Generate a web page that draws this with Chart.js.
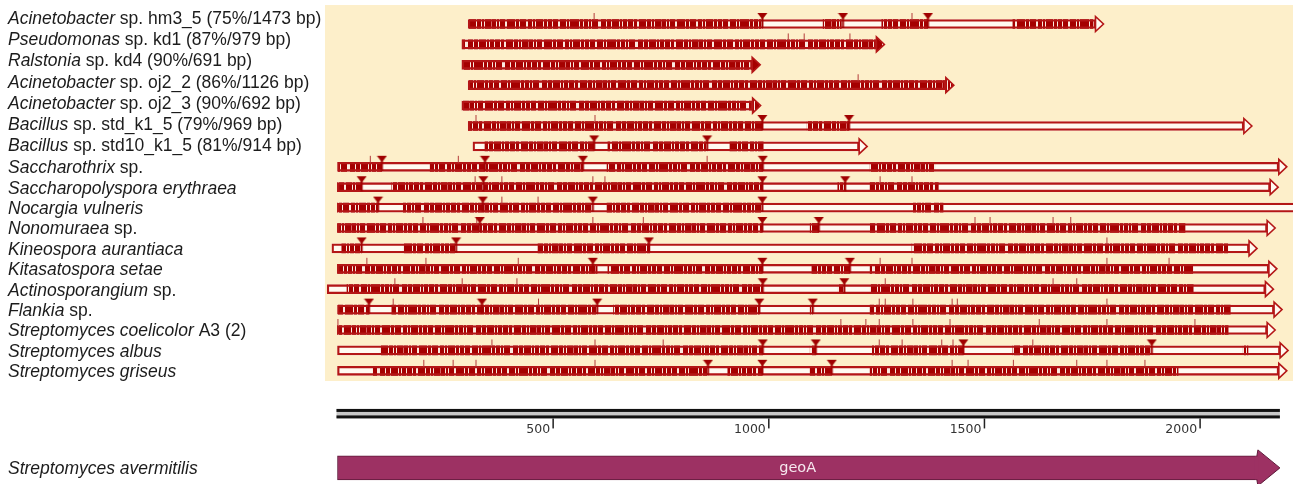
<!DOCTYPE html>
<html>
<head>
<meta charset="utf-8">
<script src="https://cdn.jsdelivr.net/npm/chart.js@4.4.1/dist/chart.umd.min.js"></script>
<style>
  html, body { margin: 0; padding: 0; background: #ffffff; }
  #wrap { width: 1293px; height: 484px; position: relative; }
</style>
</head>
<body>
<div id="wrap"><canvas id="map" width="1293" height="484"></canvas></div>
<script>
// ---- reads aligned against the geoA gene (positions in bp) ----
const genera = [
  'Acinetobacter', 'Pseudomonas', 'Ralstonia', 'Acinetobacter', 'Acinetobacter',
  'Bacillus', 'Bacillus', 'Saccharothrix', 'Saccharopolyspora erythraea',
  'Nocargia vulneris', 'Nonomuraea', 'Kineospora aurantiaca', 'Kitasatospora setae',
  'Actinosporangium', 'Flankia', 'Streptomyces coelicolor', 'Streptomyces albus',
  'Streptomyces griseus'
];
const strains = [
  ' sp. hm3_5 (75%/1473 bp)', ' sp. kd1 (87%/979 bp)', ' sp. kd4 (90%/691 bp)',
  ' sp. oj2_2 (86%/1126 bp)', ' sp. oj2_3 (90%/692 bp)', ' sp. std_k1_5 (79%/969 bp)',
  ' sp. std10_k1_5 (81%/914 bp)', ' sp.', '', '', ' sp.', '', '', ' sp.', ' sp.',
  ' A3 (2)', '', ''
];
const readStart = [303, 289, 289, 303, 289, 303, 314, 0, 0, 0, 0, -13, 0, -24, 0, 0, 0, 0];
const readEnd   = [1776, 1268, 980, 1429, 981, 2120, 1228, 2201, 2181, 2260, 2174, 2132, 2178, 2170, 2190, 2174, 2204, 2201];

// aligned (matching) stretches of each read
const aligned = [
  [[303, 985], [1126, 1168], [1262, 1369], [1566, 1752]],
  [[289, 1268]],
  [[289, 980]],
  [[303, 1429]],
  [[289, 981]],
  [[303, 985], [1089, 1186]],
  [[342, 595], [627, 857], [910, 987]],
  [[0, 103], [215, 569], [625, 986], [1235, 1386]],
  [[0, 56], [126, 985], [1160, 1177], [1235, 1393]],
  [[0, 94], [152, 592], [625, 985], [1335, 1404]],
  [[0, 985], [1096, 1116], [1235, 1965]],
  [[10, 56], [152, 275], [465, 725], [1332, 2065]],
  [[0, 602], [627, 985], [1100, 1188], [1235, 1984]],
  [[22, 986], [1160, 1175], [1235, 1984]],
  [[0, 73], [126, 602], [640, 978], [1096, 1102], [1235, 2070]],
  [[0, 2065]],
  [[99, 986], [1096, 1109], [1240, 1451], [1566, 1888], [2100, 2111]],
  [[83, 859], [905, 985], [1096, 1146], [1235, 1949]]
];
// gap positions (triangles) and insertion positions (ticks)
const gaps = [
  [985, 1172, 1369], [], [], [], [], [985, 1186], [595, 857],
  [103, 342, 569, 986], [56, 338, 985, 1177], [94, 337, 592, 985],
  [330, 985, 1116], [56, 275, 722], [592, 985, 1188], [986, 1175],
  [73, 335, 602, 978, 1102], [], [986, 1109, 1451, 1888], [859, 985, 1146]
];
const inserts = [
  [595, 1332], [1045, 1082, 1188], [], [1207], [], [321, 597], [],
  [76, 280, 857], [319, 381, 592, 620, 1258, 1332], [381, 465],
  [198, 323, 592, 709, 1478, 1513, 1659, 1700], [1784],
  [68, 205, 419, 1258, 1332, 1784, 1928], [133, 289, 416, 1270, 1659, 1714],
  [129, 466, 1256, 1270, 1334, 1425, 1437, 1784],
  [1, 1167, 1225, 1256, 1334, 1420, 1627, 1784, 1988],
  [358, 597, 755, 1256, 1309, 1401, 1427, 1612],
  [200, 268, 321, 597, 1425, 1462, 1567, 1714, 1784, 1872]
];
// reference gene
const refOrganism = 'Streptomyces avermitilis';
const refGene = 'geoA';
const refStart = 0;
const refEnd = 2185;
const scaleTicks = [500, 1000, 1500, 2000];

// ---- layout ----
const X_MIN = -782.5, X_MAX = 2215.4;          // bp visible across the canvas
const ROW_PX = 20.4, ROW0_PX = 24;
const Y_MIN = -ROW0_PX / ROW_PX, Y_MAX = Y_MIN + 484 / ROW_PX;
const SCALE_ROW = 19.09, GENE_ROW = 21.76;
const HEAD_BP = 18.5, GENE_HEAD_BP = 51;
const RED = '#A80808', OUTLINE = '#B41616', READ_FILL = '#FFFAF1';

// stripe texture for aligned stretches (one character per pixel column)
const STRIPES =
  '#####.###.######..####.##.#######.###.####.#####..######.##.#########.###.####.##.' +
  '######...#####.####.#######.##.####.#####.###..#######.####.##.######+####.##.#####..###';
const STRIPE_COLORS = { '#': '#A50000', '+': '#D66A6A', '.': '#FBEAE0' };
function makePatterns(n) {
  const c = document.createElement('canvas');
  c.width = STRIPES.length; c.height = 16;
  const g = c.getContext('2d');
  [...STRIPES].forEach((ch, k) => { g.fillStyle = STRIPE_COLORS[ch]; g.fillRect(k, 0, 1, 16); });
  const out = [];
  for (let i = 0; i < n; i++) {
    const p = g.createPattern(c, 'repeat');
    p.setTransform(new DOMMatrix([1, 0, 0, 1, i * 37, 0]));
    out.push(p);
  }
  return out;
}
const patterns = makePatterns(genera.length);

function makeGapMark() {
  const c = document.createElement('canvas');
  c.width = 11; c.height = 24;
  const g = c.getContext('2d');
  g.fillStyle = '#A00000';
  g.beginPath(); g.moveTo(0.5, 1); g.lineTo(10.5, 1); g.lineTo(5.5, 7.5); g.closePath(); g.fill();
  g.fillRect(4.5, 6, 2, 10);
  return c;
}
function makeInsertMark() {
  const c = document.createElement('canvas');
  c.width = 3; c.height = 24;
  const g = c.getContext('2d');
  g.fillStyle = '#B33A3A';
  g.fillRect(1, 1, 1, 7);
  return c;
}

const bodyData = readStart.map((s, i) => ({ y: i, x: [s, readEnd[i] - HEAD_BP] }));
const blockData = aligned.flatMap((segs, i) =>
  segs.map(([a, b]) => ({ y: i, x: [a, Math.min(b, readEnd[i] - HEAD_BP)] })));
const gapData = gaps.flatMap((g, i) => g.map(v => ({ x: v, y: i })));
const insertData = inserts.flatMap((g, i) => g.map(v => ({ x: v, y: i })));
const geneData = [{ y: GENE_ROW, x: [refStart, refEnd - GENE_HEAD_BP] }];

// the plot spans the whole canvas: both axes are hidden
const fullAreaPlugin = {
  id: 'fullArea',
  afterLayout(chart) {
    const { x, y } = chart.scales;
    const W = chart.width, H = chart.height;
    x.left = 0; x.right = W; x.width = W; x.min = X_MIN; x.max = X_MAX; x.configure();
    y.top = 0; y.bottom = H; y.height = H; y.min = Y_MIN; y.max = Y_MAX; y.configure();
    chart.chartArea = { left: 0, top: 0, right: W, bottom: H, width: W, height: H };
  }
};

// cream panel behind the reads
const panelPlugin = {
  id: 'panel',
  beforeDraw(chart) {
    const { ctx, width, height } = chart;
    ctx.save();
    ctx.fillStyle = '#ffffff';
    ctx.fillRect(0, 0, width, height);
    const x = chart.scales.x, y = chart.scales.y;
    const left = x.getPixelForValue(-29);
    const top = y.getPixelForValue(-0.93), bottom = y.getPixelForValue(17.5);
    ctx.fillStyle = '#FDEFCA';
    ctx.fillRect(left, top, width - left, bottom - top);
    ctx.restore();
  }
};

// arrowheads, ruler, gene arrow label, organism names
const decorPlugin = {
  id: 'decor',
  afterDatasetsDraw(chart) {
    const { ctx } = chart;
    const x = chart.scales.x, y = chart.scales.y;
    ctx.save();
    // read arrowheads
    readEnd.forEach((end, i) => {
      const tip = x.getPixelForValue(end), base = x.getPixelForValue(end - HEAD_BP);
      const cy = y.getPixelForValue(i);
      const segs = aligned[i];
      const full = segs[segs.length - 1][1] >= end - HEAD_BP - 1;
      ctx.beginPath();
      ctx.moveTo(base, cy - 7.5);
      ctx.lineTo(tip, cy);
      ctx.lineTo(base, cy + 7.5);
      ctx.closePath();
      ctx.fillStyle = full ? patterns[i] : READ_FILL;
      ctx.fill();
      ctx.lineWidth = 1.6;
      ctx.lineJoin = 'miter';
      ctx.strokeStyle = OUTLINE;
      ctx.stroke();
    });
    // gene arrowhead
    {
      const tip = x.getPixelForValue(refEnd), base = x.getPixelForValue(refEnd - GENE_HEAD_BP);
      const cy = y.getPixelForValue(GENE_ROW);
      ctx.beginPath();
      ctx.moveTo(base - 1, cy - 12);
      ctx.lineTo(base, cy - 18);
      ctx.lineTo(tip, cy);
      ctx.lineTo(base, cy + 18);
      ctx.lineTo(base - 1, cy + 12);
      ctx.closePath();
      ctx.fillStyle = '#9D3163';
      ctx.fill();
      ctx.lineWidth = 1;
      ctx.strokeStyle = '#5E1A3A';
      ctx.stroke();
      ctx.fillStyle = '#9D3163';
      ctx.fillRect(base - 3, cy - 11.5, 4, 23);
      const mid = x.getPixelForValue((refStart + refEnd - GENE_HEAD_BP) / 2);
      ctx.font = '14.5px "DejaVu Sans"';
      ctx.textAlign = 'center';
      ctx.textBaseline = 'middle';
      ctx.fillStyle = '#F6E8EF';
      ctx.fillText(refGene, mid, cy);
    }
    // ruler
    {
      const cy = y.getPixelForValue(SCALE_ROW);
      const l = x.getPixelForValue(refStart) - 1, r = x.getPixelForValue(refEnd);
      ctx.fillStyle = '#C8C8C8';
      ctx.fillRect(l, cy - 4.5, r - l, 9);
      ctx.fillStyle = '#111111';
      ctx.fillRect(l, cy - 4.5, r - l, 3);
      ctx.fillRect(l, cy + 2, r - l, 3);
      ctx.font = '12.5px "DejaVu Sans"';
      ctx.textAlign = 'right';
      ctx.textBaseline = 'middle';
      scaleTicks.forEach(v => {
        const px = x.getPixelForValue(v);
        ctx.fillStyle = '#222222';
        ctx.fillRect(px - 0.75, cy + 5, 1.5, 10);
        ctx.fillStyle = '#333333';
        ctx.fillText(String(v), px - 3, cy + 16);
      });
    }
    // organism labels
    ctx.textAlign = 'left';
    ctx.textBaseline = 'alphabetic';
    ctx.fillStyle = '#1c1c1c';
    const italic = 'italic 17.5px "Liberation Sans", Arial, sans-serif';
    const upright = '17.5px "Liberation Sans", Arial, sans-serif';
    genera.forEach((g, i) => {
      const cy = Math.min(y.getPixelForValue(i), 17.3 + i * 21.3);
      const base = cy + 6.3;
      ctx.font = italic;
      ctx.fillText(g, 8, base);
      const w = ctx.measureText(g).width;
      ctx.font = upright;
      ctx.fillText(strains[i], 8 + w, base);
    });
    ctx.font = italic;
    ctx.fillText(refOrganism, 8, y.getPixelForValue(GENE_ROW) + 6.3);
    ctx.restore();
  }
};

const barCommon = { indexAxis: 'y', grouped: false, barThickness: 9 };

new Chart(document.getElementById('map'), {
  type: 'bar',
  data: {
    datasets: [
      { type: 'scatter', label: 'gaps', data: gapData, pointStyle: makeGapMark(), radius: 6, order: 0 },
      { type: 'scatter', label: 'insertions', data: insertData, pointStyle: makeInsertMark(), radius: 3, order: 1 },
      Object.assign({ label: 'read outline', data: bodyData, backgroundColor: 'rgba(0,0,0,0)',
        borderColor: OUTLINE, borderWidth: 1.6, borderSkipped: false, order: 2 }, barCommon),
      Object.assign({ label: 'aligned', data: blockData,
        backgroundColor: ctx => (ctx.raw ? patterns[ctx.raw.y] : RED), borderWidth: 0, order: 3 }, barCommon),
      Object.assign({ label: 'read', data: bodyData, backgroundColor: READ_FILL, borderWidth: 0, order: 4 }, barCommon),
      Object.assign({ label: refGene, data: geneData, backgroundColor: '#9D3163', borderColor: '#5E1A3A',
        borderWidth: 1, borderSkipped: false, order: 5 }, barCommon, { barThickness: 24 })
    ]
  },
  options: {
    responsive: false,
    maintainAspectRatio: false,
    animation: false,
    events: [],
    layout: { padding: 0, autoPadding: false },
    plugins: { legend: { display: false }, tooltip: { enabled: false } },
    scales: {
      x: { type: 'linear', min: X_MIN, max: X_MAX, display: false, offset: false, bounds: 'data' },
      y: { type: 'linear', min: Y_MIN, max: Y_MAX, reverse: true, display: false, offset: false, bounds: 'data' }
    }
  },
  plugins: [fullAreaPlugin, panelPlugin, decorPlugin]
});
</script>
</body>
</html>
